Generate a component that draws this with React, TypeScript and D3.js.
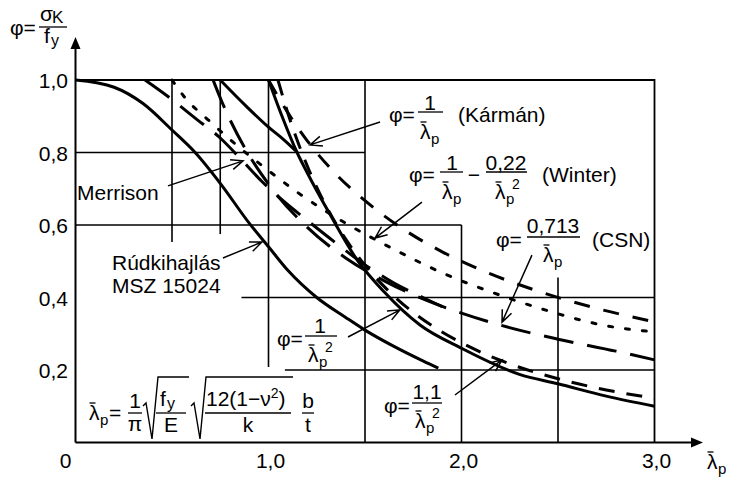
import React from 'react';
import * as d3 from 'd3';

// readings: [lambda_p, phi]
const rudkihajlas = [[0, 1], [0.2, 0.98], [0.35, 0.935], [0.5, 0.862], [0.62, 0.8], [0.75, 0.715], [0.9, 0.605], [1.0, 0.54], [1.1, 0.475], [1.25, 0.4], [1.4, 0.345], [1.5, 0.31], [1.65, 0.265], [1.8, 0.225], [1.88, 0.205]];
const karman = [[1.0, 1.0], [1.1, 0.91], [1.2, 0.833], [1.35, 0.74], [1.5, 0.667], [1.7, 0.588], [1.9, 0.526], [2.1, 0.476], [2.4, 0.417], [2.7, 0.37], [3.0, 0.333]];
const winter = [[0.5, 1.0], [0.56, 0.956], [0.7, 0.884], [0.84, 0.818], [1.0, 0.75], [1.15, 0.69], [1.4, 0.605], [1.65, 0.533], [1.9, 0.468], [2.17, 0.412], [2.45, 0.363], [2.73, 0.324], [3.0, 0.305]];
const csn = [[0.713, 1.0], [0.76, 0.938], [0.8, 0.891], [0.9, 0.792], [1.0, 0.713], [1.2, 0.594], [1.4, 0.509], [1.6, 0.446], [1.8, 0.396], [2.0, 0.357], [2.2, 0.324], [2.5, 0.285], [2.8, 0.252], [3.0, 0.228]];
const merrison = [[0.36, 1.0], [0.49, 0.95], [0.62, 0.895], [0.75, 0.84], [0.86, 0.78], [0.97, 0.718], [1.08, 0.665], [1.2, 0.613], [1.35, 0.55], [1.5, 0.49], [1.65, 0.44], [1.8, 0.4], [1.9, 0.375]];
const euler = [[1.0, 1.0], [1.07, 0.9], [1.148, 0.8], [1.2, 0.745], [1.32, 0.628], [1.46, 0.503], [1.6, 0.415], [1.785, 0.324], [2.0, 0.26], [2.3, 0.188], [2.5, 0.162], [2.75, 0.128], [3.0, 0.1]];
const eulerBranch = [[0.75, 1.0], [0.88, 0.93], [1.0, 0.87], [1.08, 0.835], [1.15, 0.8]];
const euler11 = [[1.049, 1.0], [1.1, 0.909], [1.2, 0.764], [1.3, 0.651], [1.4, 0.561], [1.5, 0.489], [1.65, 0.404], [1.85, 0.321], [2.0, 0.275], [2.2, 0.227], [2.5, 0.176], [2.75, 0.145], [3.0, 0.122]];

const xTicks = [0, 1, 2, 3];
const xTickLabels = ['0', '1,0', '2,0', '3,0'];
const yTicks = [0.2, 0.4, 0.6, 0.8, 1.0];
const yTickLabels = ['0,2', '0,4', '0,6', '0,8', '1,0'];

// partial grid: [value, from, to]
const hGrid = [[0.8, 0, 1.5], [0.6, 0, 2.0], [0.4, 0.86, 3.0], [0.2, 1.085, 3.0]];
const vGrid = [[0.5, 0.553, 1.0], [0.75, 0.575, 1.0], [1.0, 0.208, 1.0], [1.5, 0, 1.0], [2.0, 0, 0.6], [2.5, 0, 0.455]];

// pointer arrows: tail [lambda, phi] -> tip [lambda, phi]
const pointers = [
  [[1.578, 0.884], [1.215, 0.821]],
  [[1.795, 0.663], [1.552, 0.564]],
  [[2.365, 0.517], [2.21, 0.332]],
  [[1.412, 0.291], [1.681, 0.366]],
  [[1.966, 0.131], [2.21, 0.228]],
  [[0.479, 0.708], [0.868, 0.777]],
  [[0.764, 0.509], [0.966, 0.553]],
];

const FONT = '"Liberation Sans", Arial, sans-serif';

function LamP({ x, y, sq }: { x: number; y: number; sq?: boolean }) {
  return (
    <g>
      <text x={x} y={y} fontSize={21}>λ</text>
      <line x1={x + 0.5} x2={x + 6.5} y1={y - 17} y2={y - 17} stroke="#000" strokeWidth={1.3} />
      <text x={x + 11} y={y + 5} fontSize={15}>p</text>
      {sq && <text x={x + 17} y={y - 10} fontSize={14}>2</text>}
    </g>
  );
}

function Bar({ x1, x2, y }: { x1: number; x2: number; y: number }) {
  return <line x1={x1} x2={x2} y1={y} y2={y} stroke="#000" strokeWidth={1.3} />;
}

function Sqrt({ x, x2 }: { x: number; x2: number }) {
  return (
    <path d={`M${x},406 L${x + 3},403 L${x + 9},439 L${x + 15},377 L${x2},377`}
      fill="none" stroke="#000" strokeWidth={1.4} strokeLinejoin="miter" />
  );
}

export default function App() {
  const x = d3.scaleLinear().domain([0, 3]).range([75.5, 654.5]);
  const y = d3.scaleLinear().domain([0, 1]).range([442.5, 80]);
  const line = d3.line<number[]>().x(d => x(d[0])).y(d => y(d[1])).curve(d3.curveMonotoneX);

  const curves = [
    { d: rudkihajlas, dash: null },
    { d: euler, dash: null },
    { d: eulerBranch, dash: null },
    { d: karman, dash: '16 14' },
    { d: csn, dash: '30 14' },
    { d: merrison, dash: '30 14' },
    { d: euler11, dash: '16 12' },
    { d: winter, dash: '4 13' },
  ];

  const arrowHead = (t: number[], h: number[]) => {
    const x1 = x(t[0]), y1 = y(t[1]), x2 = x(h[0]), y2 = y(h[1]);
    const a = Math.atan2(y2 - y1, x2 - x1);
    const L = 13, s = 0.4;
    const p1 = [x2 - L * Math.cos(a - s), y2 - L * Math.sin(a - s)];
    const p2 = [x2 - L * Math.cos(a + s), y2 - L * Math.sin(a + s)];
    return `M${x1},${y1} L${x2},${y2} M${p1[0]},${p1[1]} L${x2},${y2} L${p2[0]},${p2[1]}`;
  };

  return (
    <svg width={730} height={477} style={{ position: 'absolute', left: 0, top: 0, background: '#fff' }}
      fontFamily={FONT} fill="#000">
      {/* grid */}
      {hGrid.map((g, i) => (
        <line key={'h' + i} x1={x(g[1])} x2={x(g[2])} y1={y(g[0])} y2={y(g[0])} stroke="#000" strokeWidth={1.6} />
      ))}
      {vGrid.map((g, i) => (
        <line key={'v' + i} x1={x(g[0])} x2={x(g[0])} y1={y(g[1])} y2={y(g[2])} stroke="#000" strokeWidth={1.6} />
      ))}
      {/* frame */}
      <path d={`M${x(0)},${y(1)} L${x(3)},${y(1)} L${x(3)},${y(0)}`} fill="none" stroke="#000" strokeWidth={1.8} />

      {/* curves */}
      {curves.map((c, i) => (
        <path key={'c' + i} d={line(c.d) || ''} fill="none" stroke="#000" strokeWidth={3}
          strokeDasharray={c.dash || undefined} strokeLinecap={c.dash === '4 13' ? 'round' : 'butt'} />
      ))}

      {/* axes */}
      <line x1={x(0)} x2={x(0)} y1={y(0)} y2={46} stroke="#000" strokeWidth={2} />
      <path d={`M${x(0)},37 L${x(0) - 5},49 L${x(0) + 5},49 Z`} />
      <line x1={x(0)} x2={694} y1={y(0)} y2={y(0)} stroke="#000" strokeWidth={2} />
      <path d={`M703,${y(0)} L691,${y(0) - 5} L691,${y(0) + 5} Z`} />

      {/* tick labels */}
      {yTicks.map((t, i) => (
        <text key={'yt' + i} x={68} y={y(t) + 8} fontSize={21} textAnchor="end">{yTickLabels[i]}</text>
      ))}
      {xTicks.map((t, i) => (
        <text key={'xt' + i} x={t === 0 ? x(t) - 10 : x(t) + 2} y={468} fontSize={21} textAnchor="middle">{xTickLabels[i]}</text>
      ))}

      {/* axis titles */}
      <text x={10} y={35} fontSize={21}>φ=</text>
      <text x={40} y={21} fontSize={21}>σ</text>
      <text x={52} y={23} fontSize={17}>K</text>
      <Bar x1={39} x2={67} y={27} />
      <text x={44} y={43} fontSize={21}>f</text>
      <text x={51} y={46} fontSize={16}>y</text>
      <LamP x={707} y={469} />

      {/* pointers */}
      {pointers.map((p, i) => (
        <path key={'p' + i} d={arrowHead(p[0], p[1])} fill="none" stroke="#000" strokeWidth={1.5} />
      ))}

      {/* Kármán */}
      <text x={389} y={122} fontSize={21}>φ=</text>
      <text x={430} y={110} fontSize={21} textAnchor="middle">1</text>
      <Bar x1={418} x2={443} y={112} />
      <LamP x={420} y={139} />
      <text x={458} y={122} fontSize={21}>(Kármán)</text>

      {/* Winter */}
      <text x={409} y={182} fontSize={21}>φ=</text>
      <text x={452} y={170} fontSize={21} textAnchor="middle">1</text>
      <Bar x1={440} x2={463} y={172} />
      <LamP x={442} y={199} />
      <text x={474} y={182} fontSize={21} textAnchor="middle">−</text>
      <text x={506} y={170} fontSize={21} textAnchor="middle">0,22</text>
      <Bar x1={486} x2={527} y={172} />
      <LamP x={495} y={199} sq />
      <text x={542} y={182} fontSize={21}>(Winter)</text>

      {/* CSN */}
      <text x={496} y={247} fontSize={21}>φ=</text>
      <text x={553} y={233} fontSize={21} textAnchor="middle">0,713</text>
      <Bar x1={527} x2={580} y={237} />
      <LamP x={543} y={262} />
      <text x={592} y={247} fontSize={21}>(CSN)</text>

      {/* 1/lambda^2 */}
      <text x={277} y={346} fontSize={21}>φ=</text>
      <text x={320} y={333} fontSize={21} textAnchor="middle">1</text>
      <Bar x1={305} x2={337} y={336} />
      <LamP x={308} y={362} sq />

      {/* 1,1/lambda^2 */}
      <text x={384} y={413} fontSize={21}>φ=</text>
      <text x={427} y={399} fontSize={21} textAnchor="middle">1,1</text>
      <Bar x1={412} x2={442} y={403} />
      <LamP x={415} y={428} sq />

      {/* Merrison, Rúdkihajlás */}
      <text x={77} y={200} fontSize={21}>Merrison</text>
      <text x={112} y={270} fontSize={21}>Rúdkihajlás</text>
      <text x={112} y={293} fontSize={21}>MSZ 15024</text>

      {/* slenderness formula */}
      <LamP x={89} y={420} />
      <text x={109} y={420} fontSize={21}>=</text>
      <text x={135} y={408} fontSize={21} textAnchor="middle">1</text>
      <Bar x1={128} x2={142} y={413} />
      <text x={135} y={431} fontSize={21} textAnchor="middle">π</text>
      <Sqrt x={143} x2={189} />
      <text x={160} y={406} fontSize={21}>f</text>
      <text x={167} y={409} fontSize={16}>y</text>
      <Bar x1={156} x2={186} y={413} />
      <text x={171} y={432} fontSize={21} textAnchor="middle">E</text>
      <Sqrt x={191} x2={293} />
      <text x={206} y={406} fontSize={21}>12(1−ν<tspan fontSize={14} dy={-8}>2</tspan><tspan dy={8}>)</tspan></text>
      <Bar x1={205} x2={291} y={413} />
      <text x={248} y={432} fontSize={21} textAnchor="middle">k</text>
      <text x={308} y={408} fontSize={21} textAnchor="middle">b</text>
      <Bar x1={302} x2={314} y={413} />
      <text x={308} y={432} fontSize={21} textAnchor="middle">t</text>
    </svg>
  );
}
